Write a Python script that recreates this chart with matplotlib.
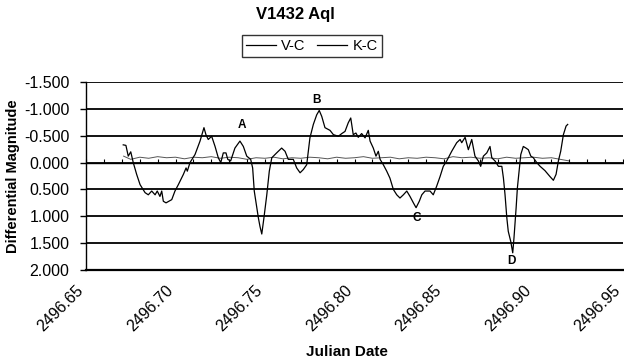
import matplotlib
matplotlib.use("Agg")
import matplotlib.pyplot as plt
import matplotlib.transforms as mtransforms
from matplotlib.ticker import MultipleLocator, FormatStrFormatter

plt.rcParams['font.family'] = ['Liberation Sans', 'DejaVu Sans']

# V-C differential magnitude
vc_jd = [2496.6708, 2496.6723, 2496.6736, 2496.6750, 2496.6764, 2496.6783, 2496.6802,
         2496.6830, 2496.6848, 2496.6867, 2496.6886, 2496.6898, 2496.6913, 2496.6923,
         2496.6932, 2496.6947, 2496.6979, 2496.6997, 2496.7016, 2496.7044, 2496.7059,
         2496.7066, 2496.7081, 2496.7109, 2496.7137, 2496.7159, 2496.7170, 2496.7183,
         2496.7202, 2496.7221, 2496.7239, 2496.7253, 2496.7267, 2496.7282, 2496.7292,
         2496.7308, 2496.7332, 2496.7360, 2496.7379, 2496.7398, 2496.7420, 2496.7431,
         2496.7440, 2496.7454, 2496.7463, 2496.7472, 2496.7482, 2496.7494, 2496.7510,
         2496.7524, 2496.7538, 2496.7565, 2496.7593, 2496.7612, 2496.7630, 2496.7658,
         2496.7677, 2496.7696, 2496.7714, 2496.7733, 2496.7742, 2496.7751, 2496.7770,
         2496.7789, 2496.7803, 2496.7817, 2496.7835, 2496.7863, 2496.7882, 2496.7910,
         2496.7929, 2496.7947, 2496.7965, 2496.7979, 2496.7993, 2496.8008, 2496.8021,
         2496.8040, 2496.8059, 2496.8077, 2496.8087, 2496.8105, 2496.8120, 2496.8133,
         2496.8143, 2496.8161, 2496.8180, 2496.8198, 2496.8217, 2496.8236, 2496.8254,
         2496.8273, 2496.8292, 2496.8310, 2496.8329, 2496.8344, 2496.8362, 2496.8376,
         2496.8394, 2496.8422, 2496.8440, 2496.8459, 2496.8478, 2496.8496, 2496.8515,
         2496.8543, 2496.8571, 2496.8590, 2496.8599, 2496.8618, 2496.8636, 2496.8655,
         2496.8673, 2496.8692, 2496.8705, 2496.8720, 2496.8739, 2496.8757, 2496.8767,
         2496.8785, 2496.8804, 2496.8823, 2496.8832, 2496.8841, 2496.8851, 2496.8859,
         2496.8873, 2496.8884, 2496.8891, 2496.8903, 2496.8910, 2496.8921, 2496.8929,
         2496.8943, 2496.8958, 2496.8971, 2496.8985, 2496.8999, 2496.9018, 2496.9037,
         2496.9064, 2496.9092, 2496.9111, 2496.9126, 2496.9139, 2496.9152, 2496.9167,
         2496.9182, 2496.9191]
vc_mag = [-0.33, -0.32, -0.12, -0.20, 0.00, 0.22, 0.41,
          0.56, 0.60, 0.53, 0.60, 0.53, 0.63, 0.53,
          0.72, 0.75, 0.69, 0.53, 0.41, 0.22, 0.10,
          0.16, 0.00, -0.15, -0.40, -0.65, -0.52, -0.43,
          -0.49, -0.30, -0.09, 0.00, -0.18, -0.18, -0.06,
          -0.03, -0.27, -0.40, -0.30, -0.12, -0.06, 0.10,
          0.53, 0.84, 1.03, 1.19, 1.33, 1.03, 0.60,
          0.16, -0.09, -0.18, -0.27, -0.21, -0.06, -0.06,
          0.10, 0.19, 0.13, 0.04, -0.21, -0.46, -0.71,
          -0.89, -0.97, -0.86, -0.65, -0.60, -0.52, -0.49,
          -0.54, -0.58, -0.74, -0.83, -0.52, -0.55, -0.47,
          -0.54, -0.46, -0.60, -0.40, -0.27, -0.12, -0.21,
          -0.06, 0.04, 0.16, 0.29, 0.50, 0.60, 0.66,
          0.60, 0.53, 0.63, 0.75, 0.84, 0.72, 0.60,
          0.53, 0.53, 0.60, 0.44, 0.26, 0.07, -0.03,
          -0.21, -0.37, -0.43, -0.37, -0.47, -0.24, -0.43,
          -0.12, -0.03, 0.07, -0.12, -0.18, -0.30, -0.09,
          -0.03, 0.07, 0.07, 0.29, 0.60, 1.03, 1.28,
          1.47, 1.68, 1.40, 0.84, 0.47, 0.10, -0.15,
          -0.30, -0.27, -0.24, -0.12, -0.09, 0.00, 0.07,
          0.15, 0.26, 0.33, 0.22, -0.03, -0.21, -0.52,
          -0.68, -0.71]

# K-C check star
kc_jd = [2496.671, 2496.675, 2496.680, 2496.685, 2496.690, 2496.695, 2496.700, 2496.705,
         2496.710, 2496.715, 2496.720, 2496.725, 2496.730, 2496.735, 2496.740, 2496.745,
         2496.750, 2496.755, 2496.760, 2496.765, 2496.770, 2496.775, 2496.780, 2496.785,
         2496.790, 2496.795, 2496.800, 2496.805, 2496.810, 2496.815, 2496.820, 2496.825,
         2496.830, 2496.835, 2496.840, 2496.845, 2496.850, 2496.855, 2496.860, 2496.865,
         2496.870, 2496.875, 2496.880, 2496.885, 2496.890, 2496.895, 2496.900, 2496.905,
         2496.910, 2496.915, 2496.920]
kc_mag = [-0.12, -0.06, -0.10, -0.08, -0.11, -0.09, -0.10, -0.07,
          -0.10, -0.09, -0.11, -0.08, -0.10, -0.09, -0.06, -0.09,
          -0.08, -0.10, -0.07, -0.09, -0.08, -0.10, -0.09, -0.07,
          -0.10, -0.08, -0.09, -0.11, -0.08, -0.09, -0.10, -0.07,
          -0.09, -0.08, -0.10, -0.09, -0.07, -0.11, -0.09, -0.10,
          -0.08, -0.09, -0.07, -0.10, -0.08, -0.09, -0.10, -0.08,
          -0.09, -0.06, -0.03]

# event labels
ev_text = ['A', 'B', 'C', 'D']
ev_jd = [2496.7372, 2496.7789, 2496.8348, 2496.8878]
ev_mag = [-0.70, -1.17, 1.03, 1.84]

fig = plt.figure(figsize=(6.24, 3.63), dpi=100)
rect = [86/624, 93/363, 537/624, 188/363]
ax = fig.add_axes(rect)

ax.plot(vc_jd, vc_mag, color='black', lw=0.9, label='V-C', zorder=3)
ax.plot(kc_jd, kc_mag, color='#555555', lw=0.7, label='K-C', zorder=2)

for t, x, y in zip(ev_text, ev_jd, ev_mag):
    ax.text(x, y, t, ha='center', va='center', fontsize=8.5, fontweight='bold')

ax.set_xlim(2496.65, 2496.95)
ax.set_ylim(2.0, -1.5)
ax.yaxis.set_major_locator(MultipleLocator(0.5))
ax.yaxis.set_major_formatter(FormatStrFormatter('%.3f'))
ax.xaxis.set_major_locator(MultipleLocator(0.05))
ax.xaxis.set_major_formatter(FormatStrFormatter('%.2f'))
ax.grid(axis='y', color='black', lw=1.3)
ax.set_axisbelow(True)

for s in ['top', 'right']:
    ax.spines[s].set_visible(False)
ax.spines['left'].set_linewidth(1.0)
ax.spines['bottom'].set_linewidth(1.6)

# horizontal axis line at zero with small ticks
ax0 = fig.add_axes(rect, sharex=ax, sharey=ax)
ax0.patch.set_visible(False)
for s in ['top', 'right', 'left']:
    ax0.spines[s].set_visible(False)
ax0.spines['bottom'].set_position(('data', 0))
ax0.spines['bottom'].set_linewidth(1.0)
ax0.xaxis.set_minor_locator(MultipleLocator(0.01))
ax0.tick_params(axis='x', which='both', direction='in', length=3, width=0.8,
                labelbottom=False)
ax0.tick_params(axis='y', left=False, labelleft=False)

ax.tick_params(axis='y', labelsize=11.5, length=4, width=1.0, pad=8)
ax.tick_params(axis='x', which='both', labelsize=11.5, length=0, pad=13)
shift = mtransforms.ScaledTranslation(-5/100, 0, fig.dpi_scale_trans)
for lab in ax.get_xticklabels():
    lab.set_rotation(45)
    lab.set_ha('right')
    lab.set_va('center')
    lab.set_rotation_mode('anchor')
    lab.set_transform(lab.get_transform() + shift)

fig.text(295/624, 1 - 14/363, 'V1432 Aql', ha='center', va='center',
         fontsize=12, fontweight='bold')
fig.text(13/624, 1 - 176/363, 'Differential Magnitude', ha='center', va='center',
         rotation=90, fontsize=10.5, fontweight='bold')
fig.text(347/624, 1 - 352/363, 'Julian Date', ha='center', va='center',
         fontsize=11, fontweight='bold')

leg = fig.legend(handles=ax.get_lines(), loc='center',
                 bbox_to_anchor=(312/624, 1 - 46/363), ncol=2,
                 fontsize=10.5, frameon=True, fancybox=False, edgecolor='black',
                 handlelength=2.0, handletextpad=0.4, columnspacing=0.8,
                 borderpad=0.3)
for h in leg.legend_handles:
    h.set_color('black')
    h.set_linewidth(0.9)
leg.get_frame().set_linewidth(1.0)

fig.savefig('out.png', dpi=100)
